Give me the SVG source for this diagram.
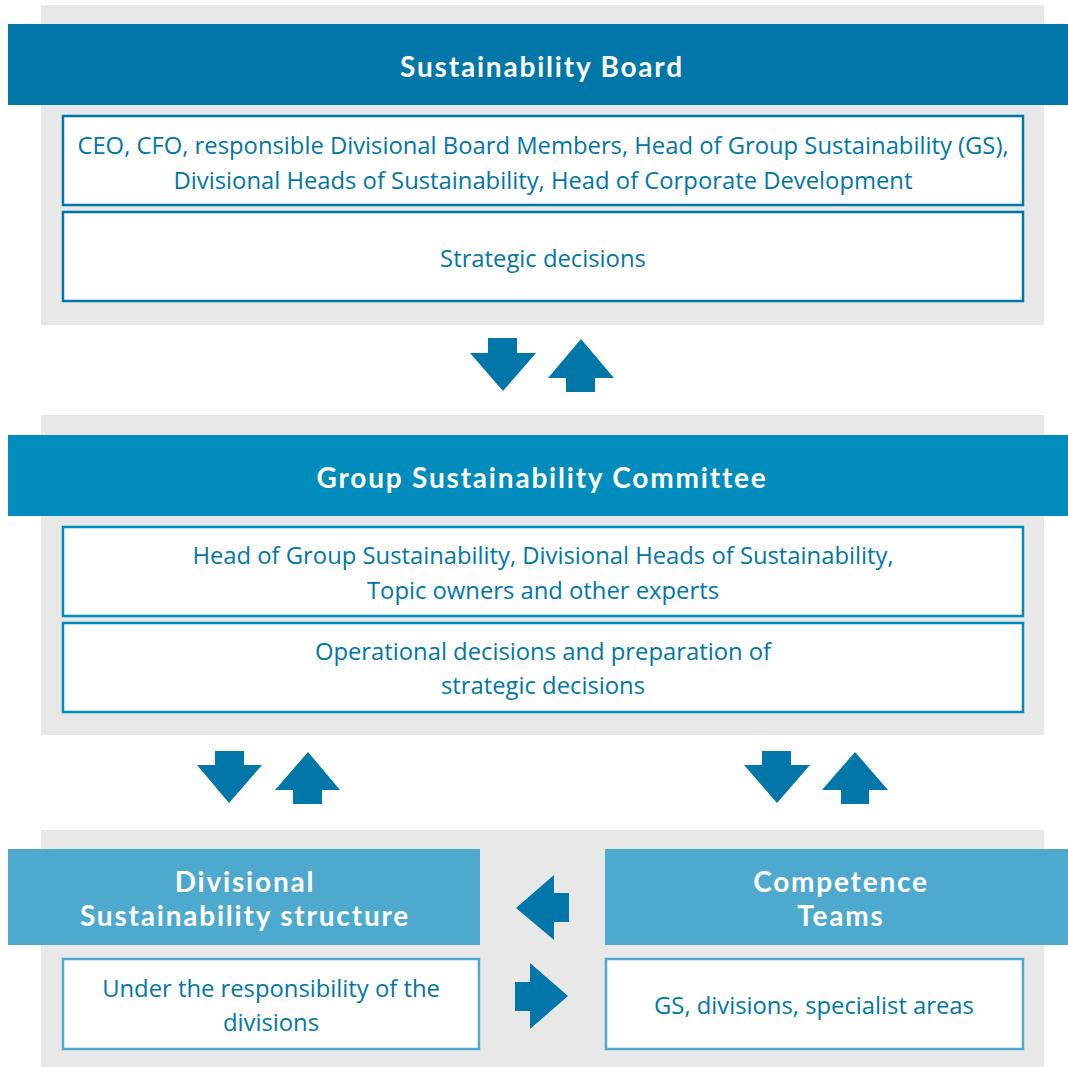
<svg xmlns="http://www.w3.org/2000/svg" width="1068" height="1067" viewBox="0 0 1068 1067">
  <style>
    .panel { fill: #e8e8e8; }
    .head1 { fill: #0077a8; }
    .head2 { fill: #008dbe; }
    .head3 { fill: #4da9ce; }
    .box1 { fill: #ffffff; stroke: #0077a8; stroke-width: 2.5; }
    .box2 { fill: #ffffff; stroke: #008dbe; stroke-width: 2.5; }
    .box3 { fill: #ffffff; stroke: #4da9ce; stroke-width: 2.5; }
    .title { font-family: Lato, "Open Sans", "Liberation Sans", sans-serif; font-weight: 700; font-size: 28px; letter-spacing: 1.8px; fill: #ffffff; text-anchor: middle; }
    .body { font-family: "Open Sans", "Liberation Sans", sans-serif; font-size: 23.8px; fill: #0077a8; text-anchor: middle; }
    .arrow { fill: #0077a8; }
  </style>

  <!-- Sustainability Board -->
  <g id="sustainability-board">
    <rect class="panel" x="41" y="5" width="1003" height="320"/>
    <rect class="head1" x="8" y="24" width="1060" height="81"/>
    <text class="title" x="542" y="77">Sustainability Board</text>
    <rect class="box1" x="63" y="116" width="960" height="89"/>
    <text class="body" x="543" y="154">CEO, CFO, responsible Divisional Board Members, Head of Group Sustainability (GS),</text>
    <text class="body" x="543" y="189">Divisional Heads of Sustainability, Head of Corporate Development</text>
    <rect class="box1" x="63" y="212" width="960" height="89"/>
    <text class="body" x="543" y="267">Strategic decisions</text>
  </g>

  <!-- Group Sustainability Committee -->
  <g id="group-sustainability-committee">
    <rect class="panel" x="41" y="415" width="1003" height="320"/>
    <rect class="head2" x="8" y="435" width="1060" height="81"/>
    <text class="title" x="542" y="488">Group Sustainability Committee</text>
    <rect class="box2" x="63" y="527" width="960" height="89"/>
    <text class="body" x="543" y="564">Head of Group Sustainability, Divisional Heads of Sustainability,</text>
    <text class="body" x="543" y="599">Topic owners and other experts</text>
    <rect class="box2" x="63" y="623" width="960" height="89"/>
    <text class="body" x="543" y="660">Operational decisions and preparation of</text>
    <text class="body" x="543" y="694">strategic decisions</text>
  </g>

  <!-- Lower panel background -->
  <rect class="panel" x="41" y="830" width="1003" height="237"/>

  <!-- Divisional Sustainability structure -->
  <g id="divisional-structure">
    <rect class="head3" x="8" y="849" width="472" height="96"/>
    <text class="title" x="245" y="892">Divisional</text>
    <text class="title" x="245" y="926">Sustainability structure</text>
    <rect class="box3" x="63" y="959" width="416" height="90"/>
    <text class="body" x="271" y="997">Under the responsibility of the</text>
    <text class="body" x="271" y="1031">divisions</text>
  </g>

  <!-- Competence Teams -->
  <g id="competence-teams">
    <rect class="head3" x="605" y="849" width="463" height="96"/>
    <text class="title" x="841" y="892">Competence</text>
    <text class="title" x="841" y="926">Teams</text>
    <rect class="box3" x="606" y="959" width="417" height="90"/>
    <text class="body" x="814" y="1014">GS, divisions, specialist areas</text>
  </g>

  <!-- Connectors: block arrows between levels -->
  <g id="connectors" class="arrow">
    <!-- Board <-> Committee -->
    <polygon points="488,338 517,338 517,353 536,353 503,391 470,353 488,353"/>
    <polygon points="581,339 614,378 595,378 595,392 566,392 566,378 548,378"/>
    <!-- Committee <-> Divisional structure -->
    <polygon points="215,751 244,751 244,765 262,765 229,803 197,765 215,765"/>
    <polygon points="308,752 340,790 322,790 322,804 293,804 293,790 275,790"/>
    <!-- Committee <-> Competence Teams -->
    <polygon points="762,751 791,751 791,765 810,765 777,803 744,765 762,765"/>
    <polygon points="855,752 888,790 869,790 869,804 841,804 841,790 822,790"/>
    <!-- Competence Teams <-> Divisional structure -->
    <polygon points="516,908 554,875 554,893 569,893 569,922 554,922 554,940"/>
    <polygon points="515,982 530,982 530,963 568,996 530,1029 530,1011 515,1011"/>
  </g>
</svg>
